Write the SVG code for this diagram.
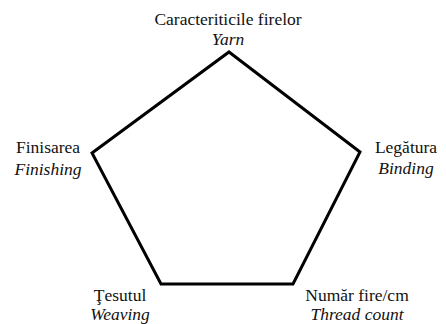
<svg xmlns="http://www.w3.org/2000/svg" width="446" height="324" viewBox="0 0 446 324">
<style>
text{font-family:"Liberation Serif","DejaVu Serif",serif;font-size:17.5px;fill:#111;text-anchor:middle}
.i{font-style:italic}
.edge{fill:none;stroke:#000;stroke-width:3;stroke-linejoin:miter}
</style>
<rect width="446" height="324" fill="#fff"/>
<g id="connectors">
<polygon class="edge" points="229,52 360,152 293,284 161,284 92,153"/>
</g>
<g id="yarn"><text x="228" y="25">Caracteriticile firelor</text><text class="i" x="228" y="45">Yarn</text></g>
<g id="binding"><text x="406" y="153">Legătura</text><text class="i" x="406" y="174">Binding</text></g>
<g id="threadcount"><text x="357" y="301">Număr fire/cm</text><text class="i" x="357" y="320">Thread count</text></g>
<g id="weaving"><text x="120" y="301">Ţesutul</text><text class="i" x="120" y="320">Weaving</text></g>
<g id="finishing"><text x="48" y="153">Finisarea</text><text class="i" x="48" y="175">Finishing</text></g>
</svg>
